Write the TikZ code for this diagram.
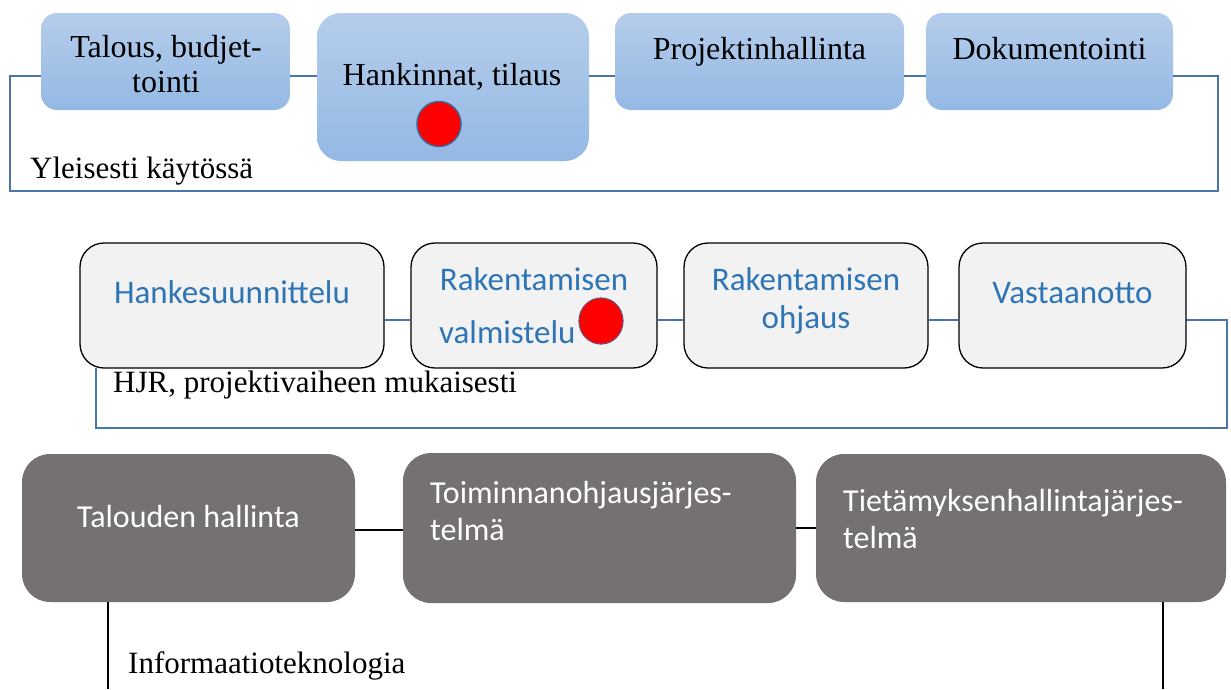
\documentclass[tikz,border=0pt]{standalone}
\usepackage{fontspec}
\setmainfont{Liberation Serif}
\newfontfamily\calfont{Carlito}
\usetikzlibrary{calc,shapes.geometric}

\definecolor{frameblue}{RGB}{72,118,168}
\definecolor{boxtop}{RGB}{181,205,235}
\definecolor{boxbot}{RGB}{148,185,228}
\definecolor{lightfill}{RGB}{242,242,242}
\definecolor{phasetext}{RGB}{46,117,182}
\definecolor{darkbox}{RGB}{118,113,113}
\definecolor{dotedge}{RGB}{65,100,150}

\tikzset{
  bluebox/.style={rectangle, rounded corners=#1, inner sep=0pt, top color=boxtop, bottom color=boxbot, draw=none},
  phasebox/.style={rectangle, rounded corners=24pt, inner sep=0pt, fill=lightfill, draw=black, line width=1.3pt},
  itbox/.style={rectangle, rounded corners=28pt, inner sep=0pt, fill=darkbox, draw=none},
  toptext/.style={anchor=base, inner sep=0pt, font=\fontsize{32}{35}\selectfont},
  phasetxt/.style={anchor=base, inner sep=0pt, text=phasetext, font=\calfont\fontsize{33}{36}\selectfont},
  ittxt/.style={anchor=base, inner sep=0pt, text=white, font=\calfont\fontsize{32}{36}\selectfont},
  grouptxt/.style={anchor=base west, inner sep=0pt, font=\fontsize{31}{34}\selectfont},
  bline/.style={draw=frameblue, line width=2.5pt},
  kline/.style={draw=black, line width=1.3pt},
  reddot/.style={ellipse, fill=red, inner sep=0pt},
}

\begin{document}
\begin{tikzpicture}[x=1pt, y=-1pt]
\useasboundingbox (0,0) rectangle (1231,689);

% ---------- generally used tools ----------
\coordinate (ty)  at (0,76);
\coordinate (tfr) at (1218,191);
\coordinate (tfl) at (10,191);

\node[bluebox=16pt, minimum width=249pt, minimum height=97pt]  (tb1) at (165.5,61.5) {};
\node[bluebox=24pt, minimum width=272pt, minimum height=148pt] (tb2) at (453,87)    {};
\node[bluebox=16pt, minimum width=289pt, minimum height=97pt]  (tb3) at (759.5,61.5)  {};
\node[bluebox=16pt, minimum width=247pt, minimum height=97pt]  (tb4) at (1049.5,61.5) {};

\draw[bline] (tb1.east |- ty) -- (tb2.west |- ty);
\draw[bline] (tb2.east |- ty) -- (tb3.west |- ty);
\draw[bline] (tb3.east |- ty) -- (tb4.west |- ty);
\draw[bline, line join=miter] (tb4.east |- ty) -| (tfr) -- (tfl) |- (tb1.west |- ty);

\node[toptext] (tb1a) at (166,57) {Talous, budjet-};
\node[toptext] (tb1b) at (166,92) {tointi};
\node[toptext] (tb2a) at (452,85) {Hankinnat, tilaus};
\node[reddot, draw=dotedge, line width=1.5pt, minimum width=44pt, minimum height=45pt] (dot1) at (439,124) {};
\node[toptext] (tb3a) at (759.5,59) {Projektinhallinta};
\node[toptext] (tb4a) at (1049.5,59) {Dokumentointi};
\node[grouptxt] (g1) at (30,178) {Yleisesti käytössä};

% ---------- project phases ----------
\coordinate (my)  at (0,320);
\coordinate (mfr) at (1227,428);
\coordinate (mfl) at (96,428);

\draw[bline, line join=miter] (1186,320) -| (mfr) -- (mfl) -- (mfl |- 0,368);

\node[phasebox, minimum width=304pt, minimum height=125pt] (mb1) at (232,305.5)   {};
\node[phasebox, minimum width=246pt, minimum height=125pt] (mb2) at (534,305.5)   {};
\node[phasebox, minimum width=244pt, minimum height=125pt] (mb3) at (806,305.5)   {};
\node[phasebox, minimum width=227pt, minimum height=125pt] (mb4) at (1072.5,305.5) {};

\draw[bline] (mb1.east |- my) -- (mb2.west |- my);
\draw[bline] (mb2.east |- my) -- (mb3.west |- my);
\draw[bline] (mb3.east |- my) -- (mb4.west |- my);
\draw[bline] (mb4.east |- my) -- (mfr |- my);

\node[phasetxt] (mb1a) at (232,303) {Hankesuunnittelu};
\node[phasetxt] (mb2a) at (534,290) {Rakentamisen};
\node[phasetxt, anchor=base west] (mb2b) at (439,343) {valmistelu};
\node[reddot, draw=dotedge!70!red, line width=1.2pt, minimum width=44pt, minimum height=46pt] (dot2) at (601,321) {};
\node[phasetxt] (mb3a) at (806,290) {Rakentamisen};
\node[phasetxt] (mb3b) at (806,328) {ohjaus};
\node[phasetxt] (mb4a) at (1072.5,303) {Vastaanotto};
\node[grouptxt] (g2) at (113,392) {HJR, projektivaiheen mukaisesti};

% ---------- information technology ----------
\coordinate (bl) at (108,689);
\coordinate (br) at (1163,689);

\node[itbox, minimum width=333pt, minimum height=148pt] (bb1) at (188.5,528) {};
\node[itbox, minimum width=393pt, minimum height=150pt] (bb2) at (599.5,528) {};
\node[itbox, minimum width=410pt, minimum height=148pt] (bb3) at (1021,528)  {};

\draw[kline] (bb1.east |- 0,530) -- (bb2.west |- 0,530);
\draw[kline] (bb2.east |- 0,528) -- (bb3.west |- 0,528);
\draw[kline] (bl |- bb1.south) -- (bl);
\draw[kline] (br |- bb3.south) -- (br);

\node[ittxt] (bb1a) at (188.5,527) {Talouden hallinta};
\node[ittxt, anchor=base west] (bb2a) at (430,503) {Toiminnanohjausjärjes-};
\node[ittxt, anchor=base west] (bb2b) at (430,540) {telmä};
\node[ittxt, anchor=base west] (bb3a) at (843,511) {Tietämyksenhallintajärjes-};
\node[ittxt, anchor=base west] (bb3b) at (843,548) {telmä};
\node[grouptxt] (g3) at (128,673) {Informaatioteknologia};
\end{tikzpicture}
\end{document}
